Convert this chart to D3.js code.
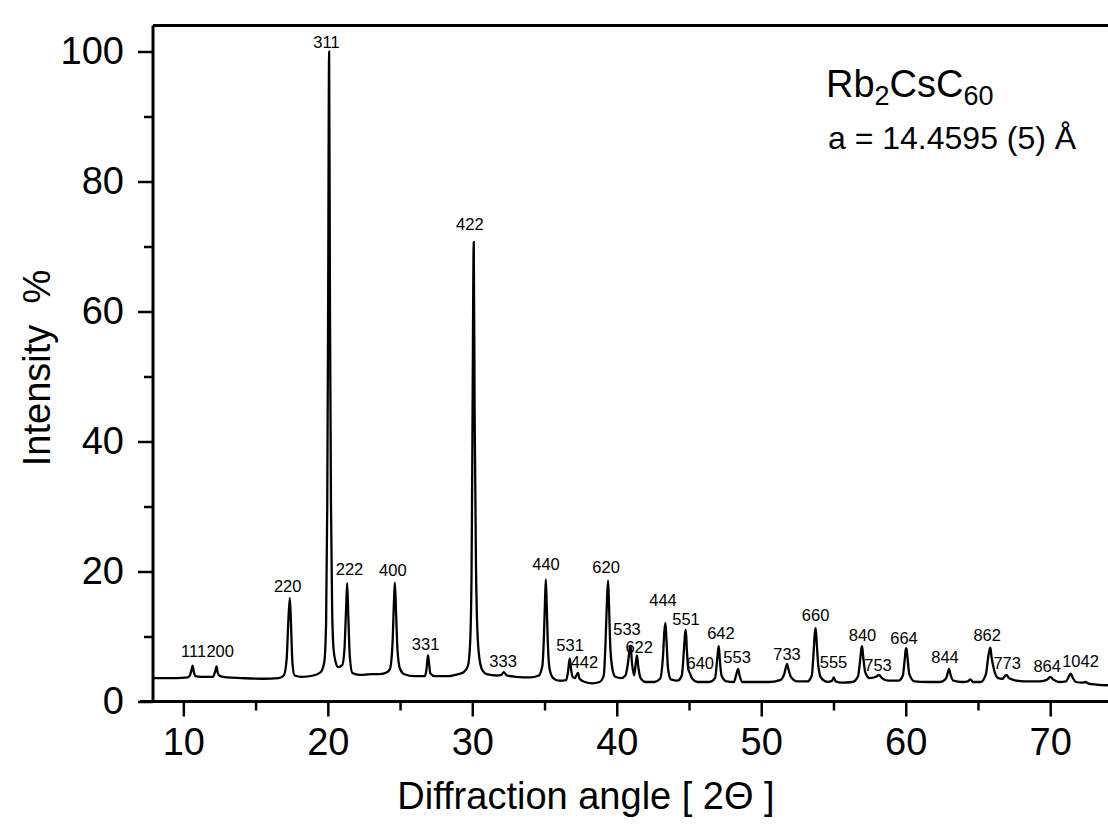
<!DOCTYPE html>
<html><head><meta charset="utf-8">
<script src="https://cdn.jsdelivr.net/npm/d3@7"></script>
<style>
body{margin:0;background:#fff}
svg{display:block}
text{font-family:"Liberation Sans",Arial,Helvetica,sans-serif;fill:#000}
</style>
</head><body>
<svg id="chart" width="1108" height="824"></svg>
<script>
// ---- data ----
const xTicks = [10, 20, 30, 40, 50, 60, 70];
const xMinorTicks = [15, 25, 35, 45, 55, 65];
const yTicks = [0, 20, 40, 60, 80, 100];
const yMinorTicks = [10, 30, 50, 70, 90];

// diffraction trace: [2theta, intensity %]
const profile = [
 [7.9,3.6],[9.5,3.6],[10.3,3.7],
 [10.45,4.0],[10.58,5.0],[10.64,5.5],[10.72,4.6],[10.85,3.9],[11.2,3.8],
 [12.05,3.8],[12.2,4.6],[12.3,5.4],[12.38,4.4],[12.55,3.9],[13.0,3.7],[14.0,3.6],[15.5,3.5],[16.6,3.6],
 [16.95,4.0],[17.15,6.5],[17.27,12.5],[17.37,15.9],[17.45,12.0],[17.55,6.0],[17.7,4.0],[18.2,3.8],[19.0,4.0],[19.5,4.5],
 [19.75,6.0],[19.88,12],[19.96,30],[20.02,60],[20.09,100],[20.15,60],[20.22,30],[20.3,14],[20.4,8],[20.55,6.0],[20.71,5.3],
 [21.0,5.6],[21.15,8],[21.26,14],[21.34,18.2],[21.42,13],[21.52,7],[21.7,4.4],[22.2,4.1],[23.0,4.2],[23.6,4.2],[24.1,4.5],
 [24.3,5.0],[24.48,9],[24.58,15.5],[24.64,18.3],[24.72,14],[24.82,8],[25.0,5.0],[25.3,4.2],[26.0,3.9],[26.7,3.9],
 [26.82,4.8],[26.9,6.5],[26.94,7.1],[27.0,6.0],[27.1,4.3],[27.4,3.9],[28.3,3.9],[29.0,4.2],[29.4,4.5],[29.7,5.5],
 [29.85,9],[29.95,20],[30.02,45],[30.1,70.7],[30.16,45],[30.25,22],[30.35,11],[30.5,6.5],[30.7,4.8],[31.0,4.2],[31.7,4.0],
 [32.0,4.1],[32.18,4.5],[32.4,4.0],[33.0,3.8],[34.0,3.7],[34.6,4.0],[34.85,5.5],
 [34.95,9.5],[35.04,16],[35.09,18.8],[35.15,15],[35.22,9.5],[35.35,5],[35.6,3.6],[36.0,3.2],[36.5,3.3],
 [36.62,4.5],[36.7,6.0],[36.75,6.6],[36.82,5.2],[36.95,3.8],[37.1,3.6],
 [37.25,4.2],[37.32,4.4],[37.42,3.5],[37.8,3.0],[38.3,2.8],[38.8,3.0],[39.1,4.0],
 [39.22,9],[39.33,16],[39.4,18.6],[39.46,15],[39.55,8.5],[39.7,5],[39.9,3.8],[40.3,3.6],[40.6,4.0],
 [40.78,6],[40.9,8.2],[40.95,8.6],[41.05,6],[41.2,4.0],
 [41.32,6],[41.4,7.1],[41.48,5.5],[41.65,3.6],[42.0,3.0],[42.6,3.0],[43.0,3.5],
 [43.2,7],[43.3,11],[43.37,12.1],[43.44,9.5],[43.55,5],[43.75,3.4],[44.2,3.2],[44.5,4.0],
 [44.65,8],[44.73,10.5],[44.78,11.0],[44.85,8],[44.95,5.0],
 [45.05,4.4],[45.2,3.6],[45.6,3.0],[46.4,3.0],[46.8,3.6],
 [46.95,6.5],[47.03,8.2],[47.06,8.5],[47.13,6.5],[47.25,4.0],[47.6,3.1],[48.1,3.0],
 [48.28,4.2],[48.4,5.0],[48.5,4.0],[48.7,3.0],[49.5,3.0],[50.5,3.0],[51.3,3.3],[51.6,4.3],
 [51.72,5.4],[51.79,5.8],[51.88,5.0],[52.05,3.8],[52.5,3.1],[53.2,3.1],[53.5,4.0],
 [53.62,7.5],[53.72,10.8],[53.77,11.3],[53.84,9],[53.95,5.5],[54.15,3.6],[54.6,3.0],
 [54.9,3.2],[55.02,3.7],[55.15,3.1],[55.6,2.9],[56.3,3.0],[56.7,3.9],
 [56.85,6.5],[56.94,8.3],[56.98,8.5],[57.05,7],[57.2,4.5],[57.5,3.6],
 [57.95,3.8],[58.15,4.1],[58.35,3.6],[58.8,3.2],[59.5,3.2],[59.8,4.0],
 [59.93,6.5],[60.0,8.0],[60.05,8.2],[60.12,6.8],[60.25,4.2],[60.6,3.1],[61.5,3.0],[62.4,3.0],[62.8,3.6],
 [62.93,4.6],[63.0,5.0],[63.08,4.3],[63.3,3.2],[63.9,3.0],[64.3,3.1],
 [64.48,3.4],[64.65,3.0],[65.2,3.0],[65.55,4.2],
 [65.72,7],[65.82,8.1],[65.86,8.3],[65.93,7],[66.1,5.0],[66.4,3.6],[66.7,3.5],
 [66.9,4.0],[66.97,4.1],[67.15,3.6],[67.5,3.3],[68.2,3.1],[69.3,3.1],[69.8,3.4],
 [70.0,3.8],[70.2,3.4],[70.6,3.0],[71.1,3.1],
 [71.3,3.9],[71.42,4.3],[71.55,3.7],[71.8,3.0],[72.2,2.9],[72.45,3.0],[72.6,2.8],[73.2,2.6],[74,2.5]
];

// Miller-index labels and their positions (2theta, intensity of text baseline)
const peakLabels = ["111","200","220","311","222","400","331","422","333","440","531","442","620","533","622","444","551","640","642","553","733","660","555","840","753","664","844","862","773","864","1042"];
const labelAngle = [10.71,12.55,17.22,19.91,21.5,24.5,26.77,29.83,32.13,35.1,36.77,37.76,39.26,40.71,41.55,43.2,44.79,45.78,47.21,48.33,51.78,53.76,55.0,57.01,58.08,59.88,62.72,65.64,67.02,69.79,72.1];
const labelHeight = [6.8,6.8,16.9,100.6,19.4,19.3,8.0,72.6,5.35,20.2,7.8,5.1,19.7,10.2,7.5,14.7,11.7,5.0,9.6,5.9,6.4,12.4,5.1,9.3,4.7,8.9,6.0,9.3,5.0,4.6,5.3];

const formulaParts = [["Rb",0],["2",1],["CsC",0],["60",1]];
const latticeText = "a = 14.4595 (5) Å";
const xTitle = "Diffraction angle [ 2\u0398 ]";
const yTitle = "Intensity  %";

// ---- drawing ----
const svg = d3.select("#chart");
const x = d3.scaleLinear().domain([7.9, 74]).range([153, 1108]);
const y = d3.scaleLinear().domain([0, 104]).range([701.5, 25.5]);
const [x0, x1] = x.range();
const [yb, yt] = y.range();

// minor ticks
svg.append("g").attr("transform", `translate(0,${yb})`)
  .call(d3.axisBottom(x).tickValues(xMinorTicks).tickSize(9).tickFormat(""))
  .call(g => g.select(".domain").remove())
  .selectAll("line").attr("stroke-width", 2.5);
svg.append("g").attr("transform", `translate(${x0},0)`)
  .call(d3.axisLeft(y).tickValues(yMinorTicks).tickSize(9).tickFormat(""))
  .call(g => g.select(".domain").remove())
  .selectAll("line").attr("stroke-width", 2.5);

// major ticks
const gx = svg.append("g").attr("transform", `translate(0,${yb})`)
  .call(d3.axisBottom(x).tickValues(xTicks).tickSize(15).tickPadding(12).tickFormat(d3.format("d")));
gx.select(".domain").remove();
gx.selectAll("line").attr("stroke-width", 2.5);
gx.selectAll("text").attr("font-size", 38).attr("font-family", '"Liberation Sans",Arial,sans-serif').attr("fill", "#000");

const gy = svg.append("g").attr("transform", `translate(${x0},0)`)
  .call(d3.axisLeft(y).tickValues(yTicks).tickSize(15).tickPadding(14).tickFormat(d3.format("d")));
gy.select(".domain").remove();
gy.selectAll("line").attr("stroke-width", 2.5);
gy.selectAll("text").attr("font-size", 38).attr("font-family", '"Liberation Sans",Arial,sans-serif').attr("fill", "#000");

// frame lines
svg.append("line").attr("x1", x0 - 13).attr("x2", x1).attr("y1", yb).attr("y2", yb)
  .attr("stroke", "#000").attr("stroke-width", 3);
svg.append("line").attr("x1", x0).attr("x2", x0).attr("y1", yt).attr("y2", yb)
  .attr("stroke", "#000").attr("stroke-width", 3);
svg.append("line").attr("x1", x0).attr("x2", x1).attr("y1", yt).attr("y2", yt)
  .attr("stroke", "#000").attr("stroke-width", 3);

// trace
svg.append("defs").append("clipPath").attr("id", "clip")
  .append("rect").attr("x", x0).attr("y", yt).attr("width", x1 - x0).attr("height", yb - yt);
svg.append("path").datum(profile)
  .attr("clip-path", "url(#clip)")
  .attr("fill", "none").attr("stroke", "#000").attr("stroke-width", 2.3)
  .attr("stroke-linejoin", "round")
  .attr("d", d3.line().x(d => x(d[0])).y(d => y(d[1])).curve(d3.curveMonotoneX));

// peak labels
svg.append("g").selectAll("text").data(peakLabels).join("text")
  .attr("x", (d, i) => x(labelAngle[i]))
  .attr("y", (d, i) => y(labelHeight[i]))
  .attr("text-anchor", "middle").attr("font-size", 16.5)
  .text(d => d);

// axis titles
svg.append("text").attr("x", 586).attr("y", 809).attr("text-anchor", "middle")
  .attr("font-size", 38).text(xTitle);
svg.append("text").attr("transform", "translate(50,368) rotate(-90)")
  .attr("text-anchor", "middle").attr("font-size", 38)
  .attr("xml:space", "preserve").style("white-space", "pre").text(yTitle);

// annotation
const f = svg.append("text").attr("x", 826).attr("y", 97).attr("font-size", 38);
formulaParts.forEach(([t, sub]) => {
  f.append("tspan").text(t)
    .attr("font-size", sub ? 27 : 38)
    .attr("baseline-shift", sub ? "-30%" : null);
});
svg.append("text").attr("x", 828).attr("y", 149).attr("font-size", 32).text(latticeText);
</script>
</body></html>
